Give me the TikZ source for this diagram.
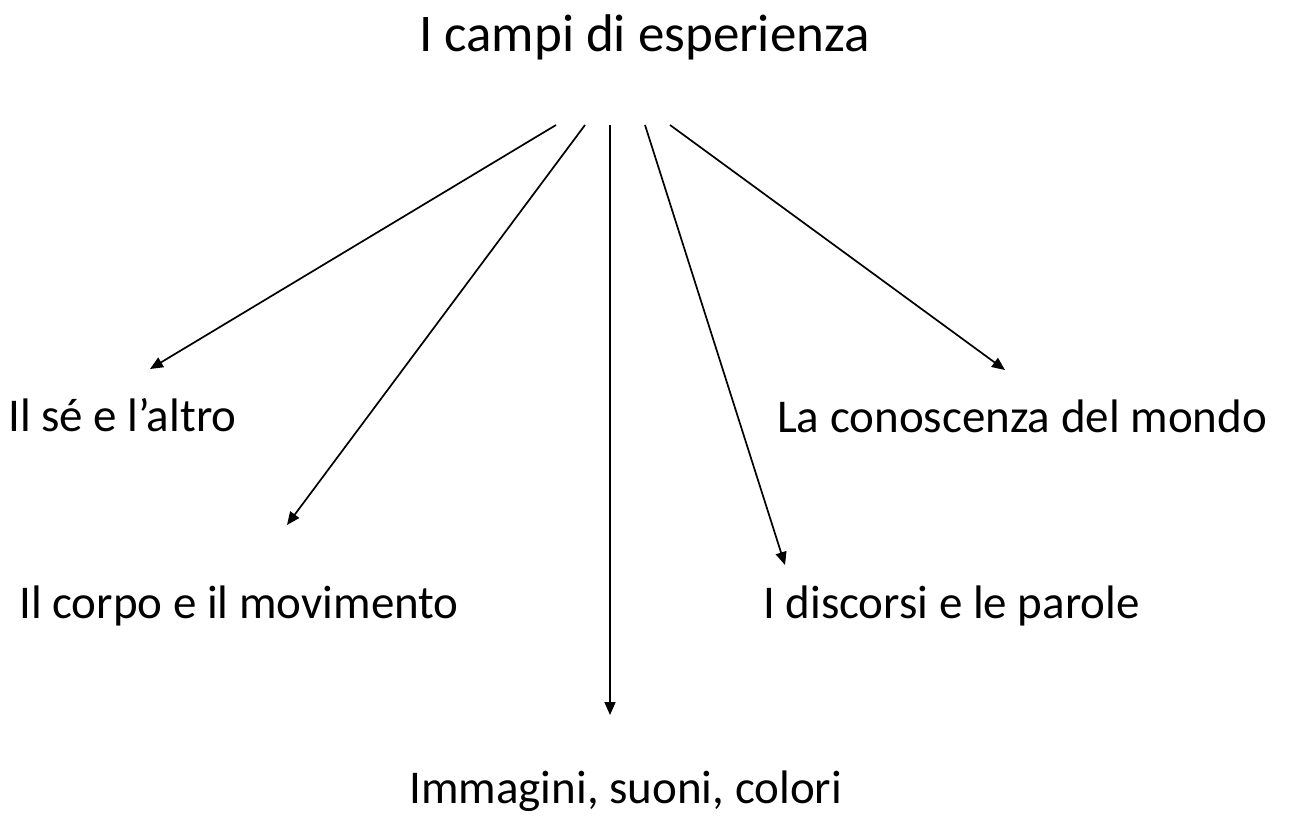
\documentclass[tikz,border=0pt]{standalone}
\usepackage{fontspec}
\setmainfont{Carlito}
\usetikzlibrary{arrows.meta}
\begin{document}
\begin{tikzpicture}[x=1pt,y=-1pt,
  lbl/.style={inner sep=0pt,anchor=base west,font=\fontsize{47}{56}\selectfont},
  ttl/.style={inner sep=0pt,anchor=base west,font=\fontsize{53}{63}\selectfont},
  arr/.style={-{Triangle[length=13pt,width=11pt]},line width=1.7pt}]
\useasboundingbox (0,0) rectangle (1295,825);
\node[ttl] (title) at (419,51) {I campi di esperienza};
\node[lbl] (se) at (8,431) {Il sé e l’altro};
\node[lbl] (corpo) at (19,618) {Il corpo e il movimento};
\node[lbl] (imm) at (409,803) {Immagini, suoni, colori};
\node[lbl] (disc) at (763,618) {I discorsi e le parole};
\node[lbl] (con) at (777,432) {La conoscenza del mondo};
\coordinate (s1) at (556,125);
\coordinate (s2) at (585,125);
\coordinate (s3) at (610,125);
\coordinate (s4) at (645,125);
\coordinate (s5) at (670,125);
\coordinate (e1) at (150,369);
\coordinate (e2) at (287,525);
\coordinate (e3) at (610,715);
\coordinate (e4) at (785,565);
\coordinate (e5) at (1005,370);
\draw[arr] (s1) -- (e1);
\draw[arr] (s2) -- (e2);
\draw[arr] (s3) -- (e3);
\draw[arr] (s4) -- (e4);
\draw[arr] (s5) -- (e5);
\end{tikzpicture}
\end{document}
